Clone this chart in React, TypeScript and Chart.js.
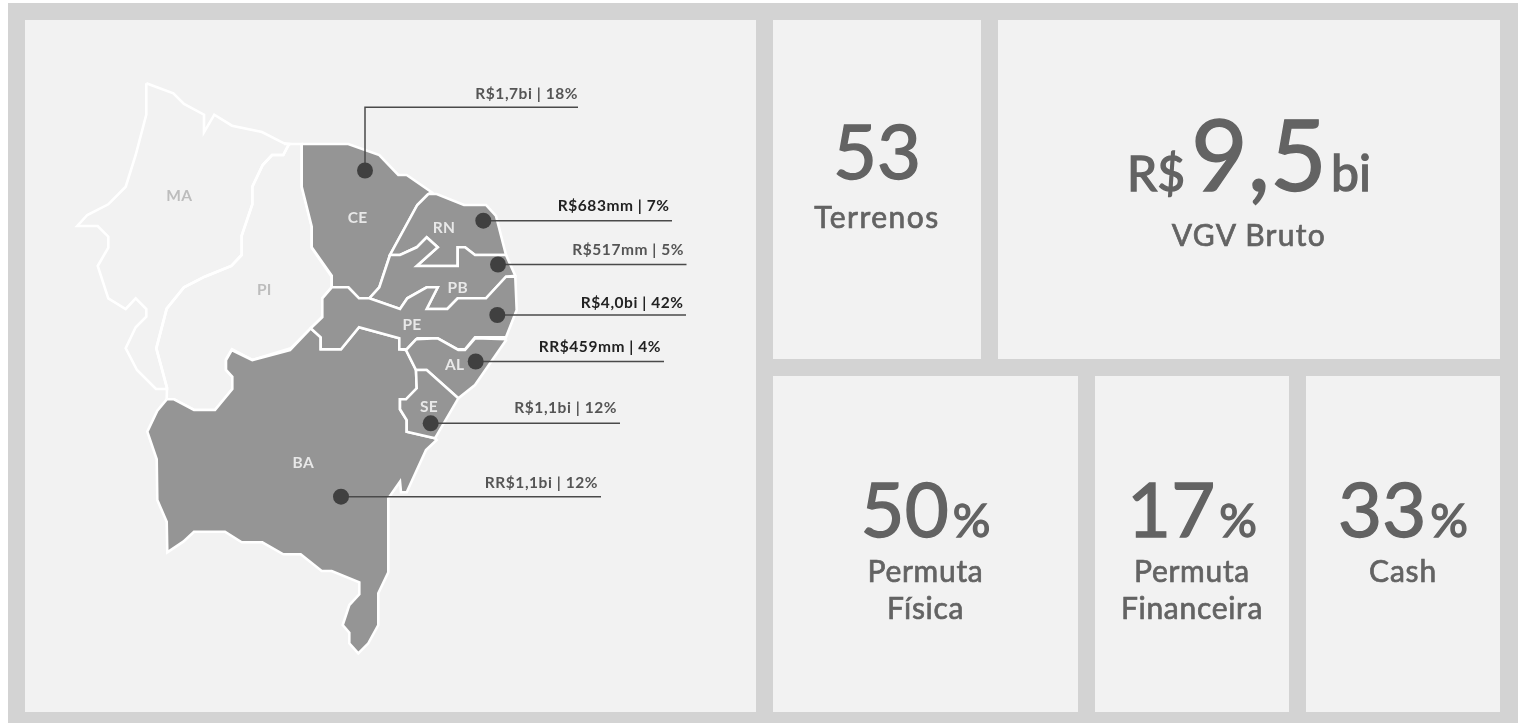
import React, { useEffect, useRef } from "react";
import { Chart, registerables } from "chart.js";

Chart.register(...registerables);

type Pt = [number, number];

const MA: Pt[] = [[146.3,83.3],[173.3,93.3],[184,104],[204,114.7],[204,132.3],[214.3,114.7],[232,125.7],[262,132],[284,143.3],[290,144],[288.7,144.7],[283.3,155],[272,155],[262.7,165],[252.3,186.7],[252.3,204.3],[241.7,235.7],[241.7,255],[231.3,266],[204.7,276.7],[184,287.3],[166.7,308.7],[156.3,348.3],[167,388],[167,389],[156,389],[137,370],[125.7,348.3],[135.7,327.3],[146.3,316.7],[146.3,309],[135.7,298.3],[125.7,309],[108.3,298.3],[97.7,266],[108.3,247.7],[108.3,236.7],[97.7,226],[77.3,226],[87.3,215],[108.3,204.3],[125.7,186.7],[135.7,155],[146.3,114.7],[146.3,83.3]];
const PI: Pt[] = [[284,144],[301.7,144],[301.7,186.7],[311.7,226],[311.7,247.7],[331.7,276.7],[331.7,287.3],[322.3,298.3],[322.3,316.7],[310.7,328.3],[290.7,348.3],[252.3,360],[232,349.3],[226,359.3],[226,370],[232.3,376.7],[232.3,389],[215,410],[194,410],[174,399.3],[166.7,399.3],[167,388],[156.3,348.3],[166.7,308.7],[184,287.3],[204.7,276.7],[231.3,266],[241.7,255],[241.7,235.7],[252.3,204.3],[252.3,186.7],[262.7,165],[272,155],[283.3,155],[288.7,144.7]];
const CE: Pt[] = [[301.7,144],[348.3,144],[379.3,155],[398.3,175],[406.7,175],[431.7,192.3],[428.3,194],[417.3,205],[390,255],[379.3,287.3],[369.3,298.3],[359,298.3],[348.3,287.3],[331.7,287.3],[331.7,275.7],[311.7,247.3],[311.7,226.7],[301.7,186.7],[301.7,144]];
const RN: Pt[] = [[428.3,194],[436.7,194],[464,205],[486,205],[496,216],[506,255],[475,255],[465,247.3],[457.7,247.3],[457.7,266],[416.7,266],[437.7,247.3],[426.7,237.3],[416.7,247.3],[400,255],[390,255],[417.3,205],[428.3,194]];
const PB: Pt[] = [[390,255],[400,255],[416.7,247.3],[426.7,237.3],[437.7,247.3],[416.7,266],[457.7,266],[457.7,247.3],[465,247.3],[475,255],[506,255],[515.3,275.7],[506,276.7],[486,298.3],[457.7,298.3],[447.3,309],[426.7,309],[437.7,287.3],[426.7,287.3],[407.3,298.3],[400,309],[369.3,298.3],[379.3,287.3],[390,255]];
const PE: Pt[] = [[515.3,276.7],[516.7,310],[506,337.3],[475,337.3],[465,349.3],[457.7,349.3],[437.7,338.3],[417.3,338.3],[406.7,349.3],[399.3,349.3],[399.3,338.3],[359,327.3],[341,349.3],[320.7,349.3],[320.7,337.3],[310.7,328.3],[322.3,317.3],[322.3,298.3],[331.7,287.3],[348.3,287.3],[359,298.3],[369.3,298.3],[400,309],[407.3,298.3],[426.7,287.3],[437.7,287.3],[426.7,309],[447.3,309],[457.7,298.3],[486,298.3],[506,276.7],[515.3,276.7]];
const AL: Pt[] = [[506.7,339.3],[475,385],[458.3,398.3],[426.7,370],[416,370],[406,350],[416,339.3],[437.7,338.3],[458.3,350],[465,350],[475,338.3],[506.7,339.3]];
const SE: Pt[] = [[416,370],[426.7,370],[458.3,398.3],[435,438.3],[406.7,431.7],[406.7,420],[400,409.3],[400,399.3],[406,399.3],[416.7,388.3],[416,370]];
const BA: Pt[] = [[166.7,399.3],[174,399.3],[194,410],[215,410],[232.3,389],[232.3,376.7],[226,370],[226,360],[231.7,350],[252.3,360],[290,350],[310.7,328.3],[320.7,337.3],[320.7,349.3],[341,349.3],[359,327.3],[399.3,338.3],[399.3,349.3],[406,350],[416,370],[416.7,388.3],[406,399.3],[400,399.3],[400,409.3],[406.7,420],[406.7,431.7],[435,438.3],[436.7,440],[426,450],[406.7,492.3],[401,492.3],[400,481.7],[388.3,498.3],[388.3,572.3],[378.3,593.3],[378.3,625],[368.3,643.3],[358.3,653.3],[349.3,643.3],[349.3,632.7],[342.7,625],[349.3,605],[359.3,594.3],[359.3,582.3],[331.7,571],[321.7,571],[300.7,554.3],[283.3,554.3],[262.3,542.3],[241.7,542.3],[225,531.7],[194,531.7],[183.3,541.7],[167.3,552.3],[166.7,521.7],[157.3,500],[156.7,459.3],[147.3,431.7],[157.3,410.7],[166.7,399.3]];

const outlineOnly: Pt[][] = [MA, PI];
const filledStates: Pt[][] = [BA, CE, RN, PB, PE, AL, SE];

const stateCodes = ["MA", "PI", "CE", "RN", "PB", "PE", "AL", "SE", "BA"];
const stateCodeX = [179.3, 264.3, 357.7, 444, 457.7, 412, 454.7, 429, 303.3];
const stateCodeY = [196, 289.5, 217.5, 227.5, 287.5, 324.5, 364.5, 406.5, 463];

const dotX = [365, 483.3, 498, 497.3, 475.7, 430.7, 341];
const dotY = [170.5, 220.7, 264.5, 315, 361.5, 423.3, 496.7];

const ceLeader: Pt[] = [[365, 170.5], [365, 107.3], [578, 107.3]];
const rnLeader: Pt[] = [[483.3, 220.7], [672, 220.7]];
const pbLeader: Pt[] = [[498, 264.5], [686.5, 264.5]];
const peLeader: Pt[] = [[497.3, 315], [686, 315]];
const alLeader: Pt[] = [[475.7, 361.5], [664, 361.5]];
const seLeader: Pt[] = [[430.7, 423.3], [620, 423.3]];
const baLeader: Pt[] = [[341, 496.7], [601, 496.7]];
const leaders: Pt[][] = [ceLeader, rnLeader, pbLeader, peLeader, alLeader, seLeader, baLeader];

const valueLabels = ["R$1,7bi | 18%", "R$683mm | 7%", "R$517mm | 5%", "R$4,0bi | 42%", "RR$459mm | 4%", "R$1,1bi | 12%", "RR$1,1bi | 12%"];
const valueLabelRight = [578, 669.5, 684, 683.5, 661, 617, 598];
const valueLabelY = [94, 206, 249.5, 302.5, 346.5, 407.5, 482.5];
const valueLabelDark = [false, true, false, true, true, false, false];

const pts = (list: Pt[]) => list.map(([x, y]) => ({ x, y }));

const labelPlugin = {
  id: "mapLabels",
  afterDatasetsDraw(chart: any) {
    const { ctx, scales } = chart;
    ctx.save();
    ctx.textBaseline = "middle";
    ctx.textAlign = "center";
    ctx.font = "700 15.5px Lato";
    ctx.letterSpacing = "0.3px";
    stateCodes.forEach((c, i) => {
      ctx.fillStyle = c === "MA" || c === "PI" ? "#bdbdbd" : "#e8e8e8";
      ctx.fillText(c, scales.x.getPixelForValue(stateCodeX[i]), scales.y.getPixelForValue(stateCodeY[i]));
    });
    ctx.textAlign = "right";
    ctx.font = "700 15.5px Lato";
    ctx.letterSpacing = "0.55px";
    valueLabels.forEach((t, i) => {
      ctx.fillStyle = valueLabelDark[i] ? "#222222" : "#555555";
      ctx.fillText(t, scales.x.getPixelForValue(valueLabelRight[i]), scales.y.getPixelForValue(valueLabelY[i]));
    });
    ctx.restore();
  },
};

function MapChart() {
  const ref = useRef<HTMLCanvasElement>(null);
  useEffect(() => {
    const base = { type: "scatter", showLine: true, pointRadius: 0, pointHoverRadius: 0, tension: 0 };
    const datasets: any[] = [
      ...outlineOnly.map((s, i) => ({ ...base, data: pts(s), borderColor: "#ffffff", borderWidth: 2.6, fill: false, order: 100 - i })),
      ...filledStates.map((s, i) => ({
        ...base, data: pts(s), borderColor: "#ffffff", borderWidth: 2.6, backgroundColor: "#959595", fill: "shape", order: 50 - i, borderJoinStyle: "miter",
      })),
      ...leaders.map((s) => ({ ...base, data: pts(s), borderColor: "#4a4a4a", borderWidth: 1.5, fill: false, order: 5 })),
      {
        type: "scatter", data: dotX.map((x, i) => ({ x, y: dotY[i] })), pointRadius: 8, pointHoverRadius: 8,
        pointBackgroundColor: "#404040", pointBorderWidth: 0, showLine: false, order: 1,
      },
    ];
    const chart = new Chart(ref.current as HTMLCanvasElement, {
      type: "scatter",
      data: { datasets },
      options: {
        animation: false,
        responsive: false,
        events: [],
        layout: { padding: 0, autoPadding: false },
        clip: false,
        plugins: { legend: { display: false }, tooltip: { enabled: false } },
        scales: {
          x: { type: "linear", min: 25, max: 756, display: false },
          y: { type: "linear", min: 20, max: 712, reverse: true, display: false },
        },
      } as any,
      plugins: [labelPlugin],
    } as any);
    return () => chart.destroy();
  }, []);
  return <canvas ref={ref} width={731} height={692} style={{ position: "absolute", left: 25, top: 20, width: 731, height: 692 }} />;
}

const panelLeft = [773, 998, 773, 1095, 1306];
const panelTop = [20, 20, 376, 376, 376];
const panelRight = [981, 1500, 1078, 1289, 1500];
const panelBottom = [359, 359, 712, 712, 712];

const kpiPrefix = ["", "R$", "", "", ""];
const kpiValue = ["53", "9,5", "50", "17", "33"];
const kpiSuffix = ["", "bi", "%", "%", "%"];
const kpiCaptions = [["Terrenos"], ["VGV Bruto"], ["Permuta", "Física"], ["Permuta", "Financeira"], ["Cash"]];
const kpiValueBaseline = [179, 192, 537, 537, 537];
const kpiCaptionBaseline = [[227.5], [246], [582, 618.5], [582, 618.5], [582]];
const kpiValueSize = [76, 98, 76, 76, 76];
const kpiCaptionSpacing = [1.5, 1.3, 0.7, 0.7, 0.8];

const INK = "#636363";

function Line({ baseline, size, cx, children, spacing, stroke }: any) {
  const top = baseline - 0.987 * size;
  return (
    <div style={{ position: "absolute", left: cx - 300, width: 600, top, height: size * 1.2, lineHeight: 1.2, fontSize: size, textAlign: "center", whiteSpace: "nowrap", letterSpacing: spacing, color: INK, fontWeight: 400, WebkitTextStroke: `${stroke}px ${INK}` }}>
      {children}
    </div>
  );
}

export default function App() {
  return (
    <div style={{ position: "absolute", left: 0, top: 0, width: 1518, height: 723, overflow: "hidden", fontFamily: "Lato, sans-serif", background: "#ffffff" }}>
      <div style={{ position: "absolute", left: 8, top: 3, right: 0, bottom: 0, background: "#d3d3d3" }} />
      <div style={{ position: "absolute", left: 25, top: 20, width: 731, height: 692, background: "#f2f2f2" }} />
      <MapChart />
      {panelLeft.map((l, i) => {
        const cx = (l + panelRight[i]) / 2;
        return (
          <React.Fragment key={i}>
            <div style={{ position: "absolute", left: l, top: panelTop[i], width: panelRight[i] - l, height: panelBottom[i] - panelTop[i], background: "#f2f2f2" }} />
            <Line baseline={kpiValueBaseline[i]} size={kpiValueSize[i]} cx={cx} stroke={1.4}>
              {kpiPrefix[i] && <span style={{ fontSize: 48, marginRight: 6 }}>{kpiPrefix[i]}</span>}
              {kpiValue[i]}
              {kpiSuffix[i] && <span style={{ fontSize: kpiSuffix[i] === "%" ? 47 : 50, marginLeft: 4 }}>{kpiSuffix[i]}</span>}
            </Line>
            {kpiCaptions[i].map((c, j) => (
              <Line key={j} baseline={kpiCaptionBaseline[i][j]} size={30} cx={cx} spacing={kpiCaptionSpacing[i]} stroke={0.7}>
                {c}
              </Line>
            ))}
          </React.Fragment>
        );
      })}
    </div>
  );
}
